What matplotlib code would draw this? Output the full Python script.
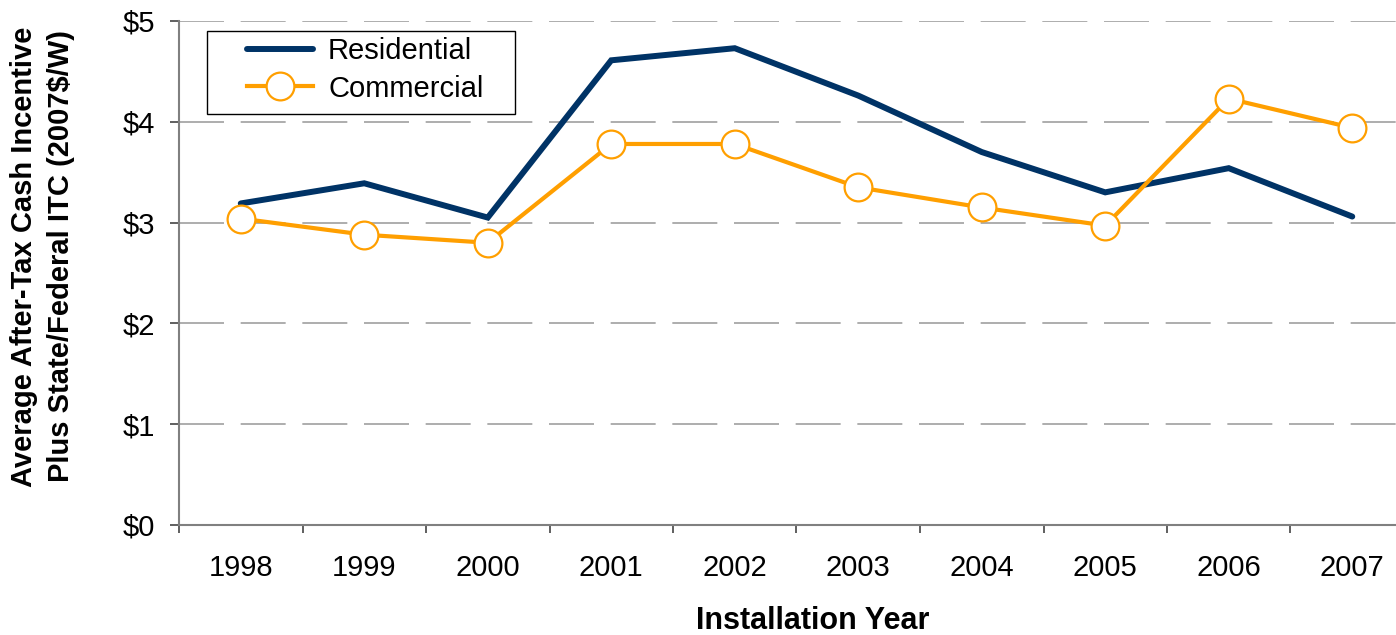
import numpy as np
import matplotlib
matplotlib.use('Agg')
import matplotlib.pyplot as plt
from matplotlib.patches import Rectangle

years = ['1998', '1999', '2000', '2001', '2002', '2003', '2004', '2005', '2006', '2007']
residential = [3.19, 3.39, 3.05, 4.61, 4.73, 4.26, 3.70, 3.30, 3.54, 3.06]
commercial = [3.04, 2.88, 2.80, 3.78, 3.78, 3.35, 3.15, 2.97, 4.23, 3.94]

plt.rcParams['font.family'] = ['Liberation Sans', 'DejaVu Sans']

W, H = 1396, 635
fig = plt.figure(figsize=(W / 100, H / 100), dpi=100)
# axes run a bit past the right edge, as in the source image
ax = fig.add_axes([179 / W, 110 / H, 1235 / W, 504 / H])

x = np.arange(len(years))
ax.plot(x, residential, color='#003366', lw=4.3, solid_capstyle='round', solid_joinstyle='miter',
        label='Residential', zorder=3)
ax.plot(x, commercial, color='#FF9F00', lw=3.0, marker='o', markersize=20, markerfacecolor='white',
        markeredgecolor='#FF9F00', markeredgewidth=1.6, label='Commercial', zorder=4)

ax.set_xlim(-0.5, len(years) - 0.5)
ax.set_ylim(0, 5)
ax.set_yticks(range(6))
ax.set_yticklabels(['$%d' % v for v in range(6)])
ax.yaxis.grid(True, color='#a0a0a0', lw=1.2, linestyle=(0, (27, 10)))
ax.set_axisbelow(True)

ax.set_xticks(x)
ax.set_xticklabels(years)
ax.set_xticks(np.arange(-0.5, len(years), 1), minor=True)
ax.tick_params(axis='x', which='major', length=0, pad=21, labelsize=21)
ax.tick_params(axis='x', which='minor', length=6, width=1.2, color='#444444')
ax.tick_params(axis='y', length=6.5, width=1.2, color='#444444', labelsize=21, pad=11)

for s in ['top', 'right']:
    ax.spines[s].set_visible(False)
for s in ['left', 'bottom']:
    ax.spines[s].set_color('#808080')
    ax.spines[s].set_linewidth(1.5)

ax.set_xlabel('Installation Year', fontsize=22, fontweight='bold')
ax.xaxis.set_label_coords(634 / 1235, -96 / 504)
ax.xaxis.label.set_va('center')

fig.text(42.5 / W, 1 - 256.5 / H, 'Average After-Tax Cash Incentive\nPlus State/Federal ITC (2007$/W)',
         rotation=90, ha='center', va='center', fontsize=21, fontweight='bold', linespacing=1.4)

# legend box
box = Rectangle((207 / W, 1 - 114 / H), 308 / W, 83 / H, transform=fig.transFigure,
                facecolor='white', edgecolor='black', lw=1.0, zorder=5, clip_on=False)
ax.add_patch(box)
leg = ax.legend(loc='upper left', bbox_to_anchor=(247 / W, 1 - 37 / H), bbox_transform=fig.transFigure,
                fontsize=21, frameon=False, handlelength=2.26, borderpad=0, labelspacing=0.33,
                handletextpad=0.52, borderaxespad=0)
leg.set_zorder(6)

fig.savefig('out.png', dpi=100)
